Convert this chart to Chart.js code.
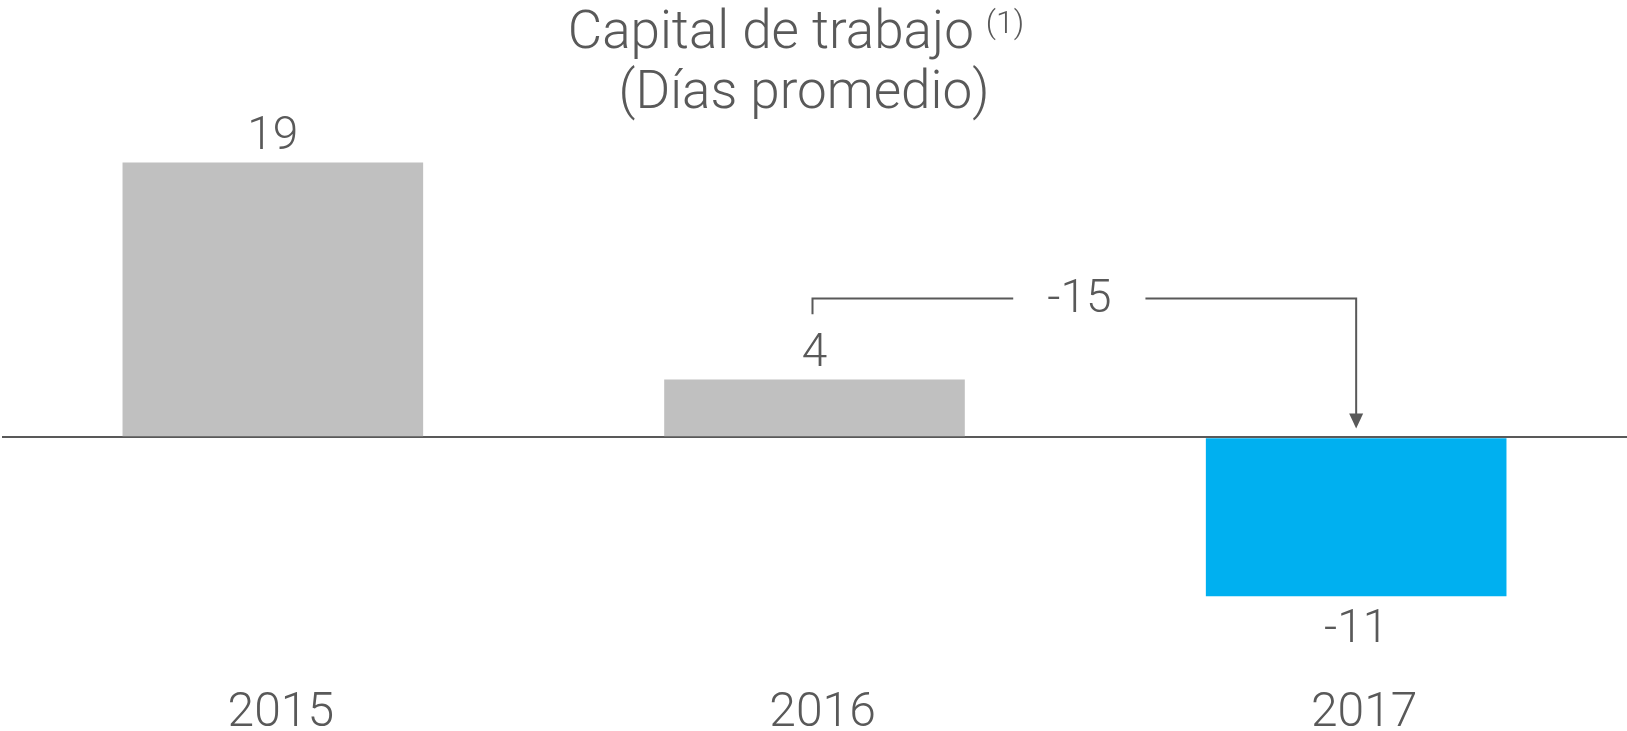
<!DOCTYPE html>
<html>
<head>
<meta charset="utf-8">
<script src="https://cdn.jsdelivr.net/npm/chart.js@4.4.0/dist/chart.umd.min.js"></script>
<style>
  html, body { margin: 0; padding: 0; background: #fff; }
  #wrap { width: 1627px; height: 731px; }
</style>
</head>
<body>
<div id="wrap"><canvas id="capitalChart"></canvas></div>
<script>
// Datos del gráfico
const years = ["2015", "2016", "2017"];
const days = [19, 4, -11];
const barColors = ["#c0c0c0", "#c0c0c0", "#00b0f0"];
const titleLines = ["Capital de trabajo", "(Días promedio)"];
const titleNote = "(1)";
const variationLabel = "-15";

const textColor = "#595959";
const fontFamily = "Roboto, 'Noto Sans', sans-serif";

// Titulo con superindice
const titlePlugin = {
  id: "titulo",
  afterDraw(chart) {
    const c = chart.ctx;
    c.save();
    c.fillStyle = textColor;
    c.textBaseline = "alphabetic";
    c.font = `300 53px ${fontFamily}`;
    const w1 = c.measureText(titleLines[0]).width;
    c.font = `300 32px ${fontFamily}`;
    const wn = c.measureText(titleNote).width;
    const gap = 12;
    const x = 796 - (w1 + gap + wn) / 2;
    c.textAlign = "left";
    c.font = `300 53px ${fontFamily}`;
    c.fillText(titleLines[0], x, 48);
    c.font = `300 32px ${fontFamily}`;
    c.fillText(titleNote, x + w1 + gap, 33);
    c.font = `300 53px ${fontFamily}`;
    c.textAlign = "center";
    c.fillText(titleLines[1], 804, 108);
    c.restore();
  }
};

// Etiquetas de valor
const valuePlugin = {
  id: "valores",
  afterDatasetsDraw(chart) {
    const c = chart.ctx;
    const meta = chart.getDatasetMeta(0);
    c.save();
    c.fillStyle = textColor;
    c.font = `300 46px ${fontFamily}`;
    c.textAlign = "center";
    c.textBaseline = "middle";
    meta.data.forEach((bar, i) => {
      const v = days[i];
      const y = v >= 0 ? bar.y - 25 : bar.y + 34;
      c.fillText(String(v), bar.x, y);
    });
    c.restore();
  }
};

// Corchete con flecha (variacion 2016 -> 2017)
const bracketPlugin = {
  id: "corchete",
  afterDraw(chart) {
    const c = chart.ctx;
    const xs = chart.scales.x;
    const ys = chart.scales.y;
    const x1 = xs.getPixelForValue(1) - 2;
    const x2 = xs.getPixelForValue(2);
    const yTop = ys.getPixelForValue(9.6);
    const yLeft = ys.getPixelForValue(8.5);
    const yTip = ys.getPixelForValue(0.6);
    const mid = (x1 + x2) / 2 - 5;
    c.save();
    c.font = `300 46px ${fontFamily}`;
    const tw = c.measureText(variationLabel).width;
    const gap = 34;
    c.strokeStyle = textColor;
    c.lineWidth = 2;
    c.beginPath();
    c.moveTo(x1, yLeft);
    c.lineTo(x1, yTop);
    c.lineTo(mid - tw / 2 - gap, yTop);
    c.moveTo(mid + tw / 2 + gap, yTop);
    c.lineTo(x2, yTop);
    c.lineTo(x2, yTip - 12);
    c.stroke();
    c.fillStyle = textColor;
    c.beginPath();
    c.moveTo(x2 - 7, yTip - 15);
    c.lineTo(x2 + 7, yTip - 15);
    c.lineTo(x2, yTip);
    c.closePath();
    c.fill();
    c.textAlign = "center";
    c.textBaseline = "middle";
    c.fillText(variationLabel, mid, yTop + 2);
    c.restore();
  }
};

const ctx = document.getElementById("capitalChart").getContext("2d");
new Chart(ctx, {
  type: "bar",
  data: {
    labels: years,
    datasets: [
      {
        data: days,
        backgroundColor: barColors,
        borderWidth: 0,
        barPercentage: 0.555,
        categoryPercentage: 1,
      },
    ],
  },
  options: {
    responsive: true,
    maintainAspectRatio: false,
    animation: false,
    layout: { padding: { top: 148, left: 2, right: 0, bottom: -11 } },
    scales: {
      x: {
        grid: { display: false, drawTicks: false },
        border: { display: false },
        ticks: {
          color: textColor,
          padding: 4,
          labelOffset: 8,
          maxRotation: 0,
          autoSkip: false,
          font: { family: fontFamily, size: 48, weight: 300, lineHeight: 1 },
        },
      },
      y: {
        min: -17.2,
        max: 20,
        z: 1,
        afterBuildTicks: (scale) => {
          scale.ticks = [{ value: 0 }];
        },
        grid: { color: textColor, lineWidth: 2, drawTicks: false },
        border: { display: false },
        ticks: { display: false },
      },
    },
    plugins: {
      legend: { display: false },
      tooltip: { enabled: false },
    },
  },
  plugins: [titlePlugin, valuePlugin, bracketPlugin],
});
</script>
</body>
</html>
